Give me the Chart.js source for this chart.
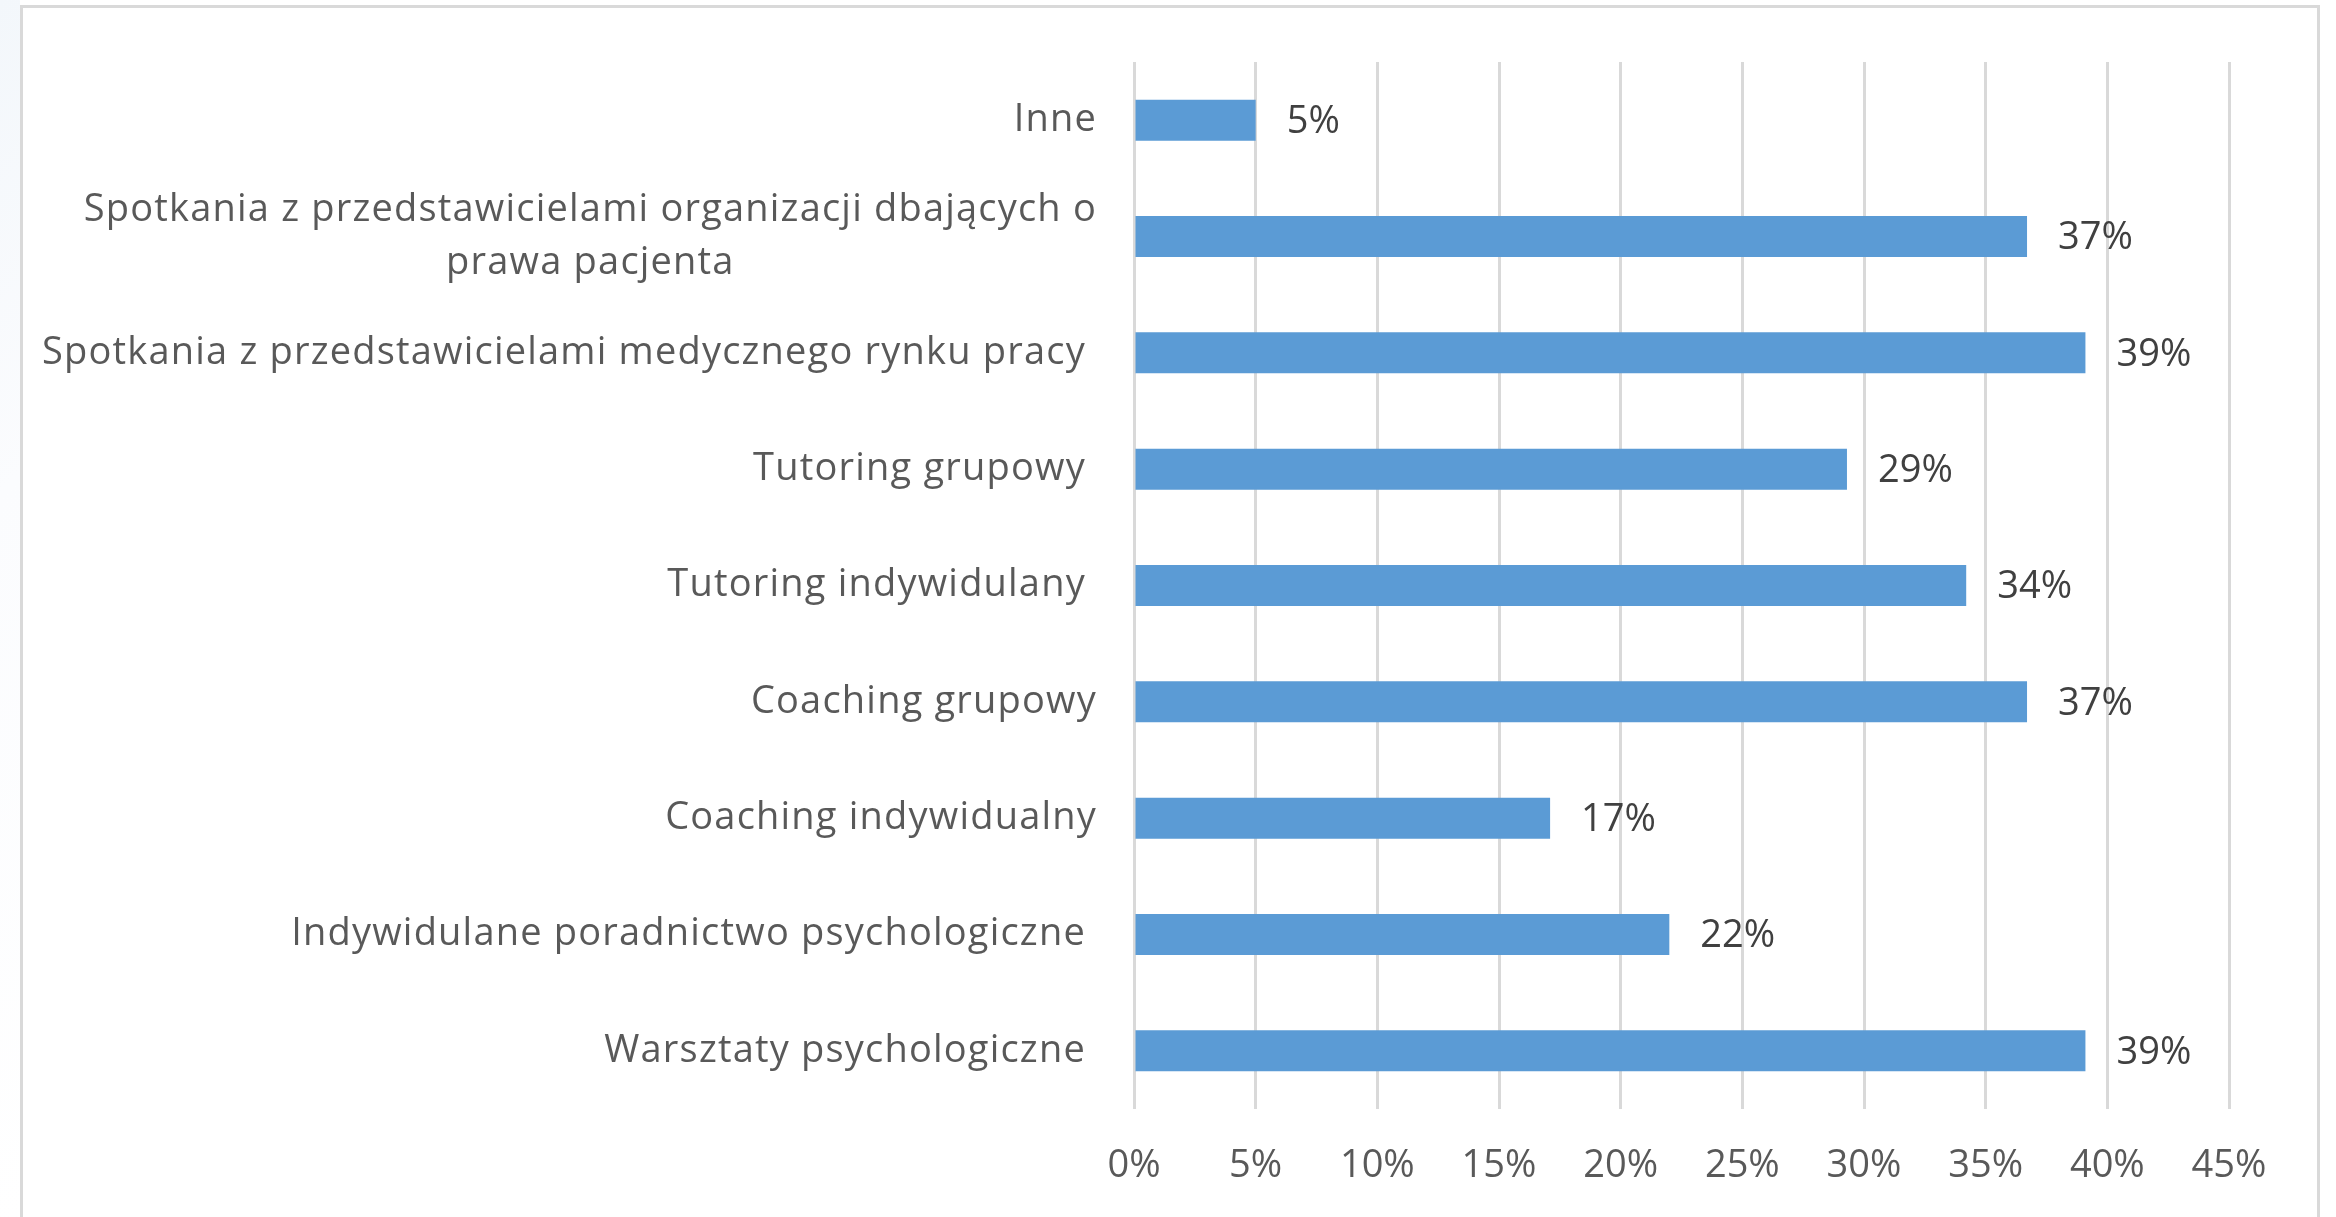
<!DOCTYPE html>
<html>
<head>
<meta charset="utf-8">
<script src="https://cdn.jsdelivr.net/npm/chart.js@4/dist/chart.umd.min.js"></script>
<style>
  html, body { margin: 0; padding: 0; background: #ffffff; overflow: hidden; }
  #wrap { position: relative; width: 2336px; height: 1217px; }
  #edge { position: absolute; left: 0; top: 0; width: 20px; height: 1217px;
          background: linear-gradient(135deg, #f3f7fb 0%, #fbfcfe 40%, #ffffff 100%); }
  #frame { position: absolute; left: 20px; top: 5px; width: 2300px; height: 1300px;
           border: 3px solid #d9d9d9; box-sizing: border-box; background: #ffffff; }
  canvas { position: absolute; left: 0; top: 0; }
</style>
</head>
<body>
<div id="wrap">
  <div id="edge"></div>
  <div id="frame"></div>
  <canvas id="c" width="2336" height="1217"></canvas>
</div>
<script>
// ---- data ----
const categories = [
  "Inne",
  ["Spotkania z przedstawicielami organizacji dbających o", "prawa pacjenta"],
  "Spotkania z przedstawicielami medycznego rynku pracy ",
  "Tutoring grupowy ",
  "Tutoring indywidulany ",
  "Coaching grupowy",
  "Coaching indywidualny",
  "Indywidulane poradnictwo psychologiczne ",
  "Warsztaty psychologiczne "
];
const values = [5.0, 36.7, 39.1, 29.3, 34.2, 36.7, 17.1, 22.0, 39.1];
const valueLabels = ["5%", "37%", "39%", "29%", "34%", "37%", "17%", "22%", "39%"];
const xTicks = [0, 5, 10, 15, 20, 25, 30, 35, 40, 45];

const FONT = "'Open Sans', 'Noto Sans', sans-serif";
const FSIZE = 38;

const labelPlugin = {
  id: 'customLabels',
  afterDatasetsDraw(chart) {
    const ctx = chart.ctx;
    const ys = chart.scales.y;
    const area = chart.chartArea;
    ctx.save();
    ctx.font = FSIZE + "px " + FONT;
    ctx.fillStyle = '#595959';
    ctx.textBaseline = 'middle';
    ctx.textAlign = 'center';
    try { ctx.letterSpacing = '1.2px'; } catch (e) {}
    const lineH = 53;
    categories.forEach((lab, i) => {
      const lines = Array.isArray(lab) ? lab : [lab];
      const maxW = Math.max(...lines.map(l => ctx.measureText(l).width));
      const right = area.left - 37;
      const cx = right - maxW / 2;
      const cy = ys.getPixelForTick(i);
      lines.forEach((l, j) => {
        ctx.fillText(l, cx, cy + (j - (lines.length - 1) / 2) * lineH);
      });
    });
    // data labels
    try { ctx.letterSpacing = '0px'; } catch (e) {}
    ctx.textAlign = 'left';
    ctx.fillStyle = '#404040';
    const meta = chart.getDatasetMeta(0);
    meta.data.forEach((bar, i) => {
      ctx.fillText(valueLabels[i], bar.x + 31, bar.y + 2);
    });
    ctx.restore();
  }
};

new Chart(document.getElementById('c'), {
  type: 'bar',
  data: {
    labels: categories,
    datasets: [{
      data: values,
      backgroundColor: '#5b9bd5',
      borderWidth: 0,
      categoryPercentage: 1.0,
      barPercentage: 0.352
    }]
  },
  options: {
    indexAxis: 'y',
    responsive: false,
    devicePixelRatio: 1,
    animation: false,
    layout: { padding: { top: 62, right: 107, left: 0, bottom: 0 } },
    plugins: { legend: { display: false }, tooltip: { enabled: false } },
    scales: {
      x: {
        min: 0, max: 45,
        afterBuildTicks(scale) { scale.ticks = xTicks.map(v => ({ value: v })); },
        afterFit(scale) { scale.height = 108; },
        grid: { color: '#d9d9d9', lineWidth: 3, drawTicks: false },
        border: { display: false },
        ticks: {
          padding: 34,
          color: '#595959',
          font: { family: FONT, size: FSIZE },
          callback: (v) => v + '%'
        }
      },
      y: {
        afterFit(scale) { scale.width = 1134; },
        grid: { display: false },
        border: { display: false },
        ticks: { display: false }
      }
    }
  },
  plugins: [labelPlugin]
});
</script>
</body>
</html>
